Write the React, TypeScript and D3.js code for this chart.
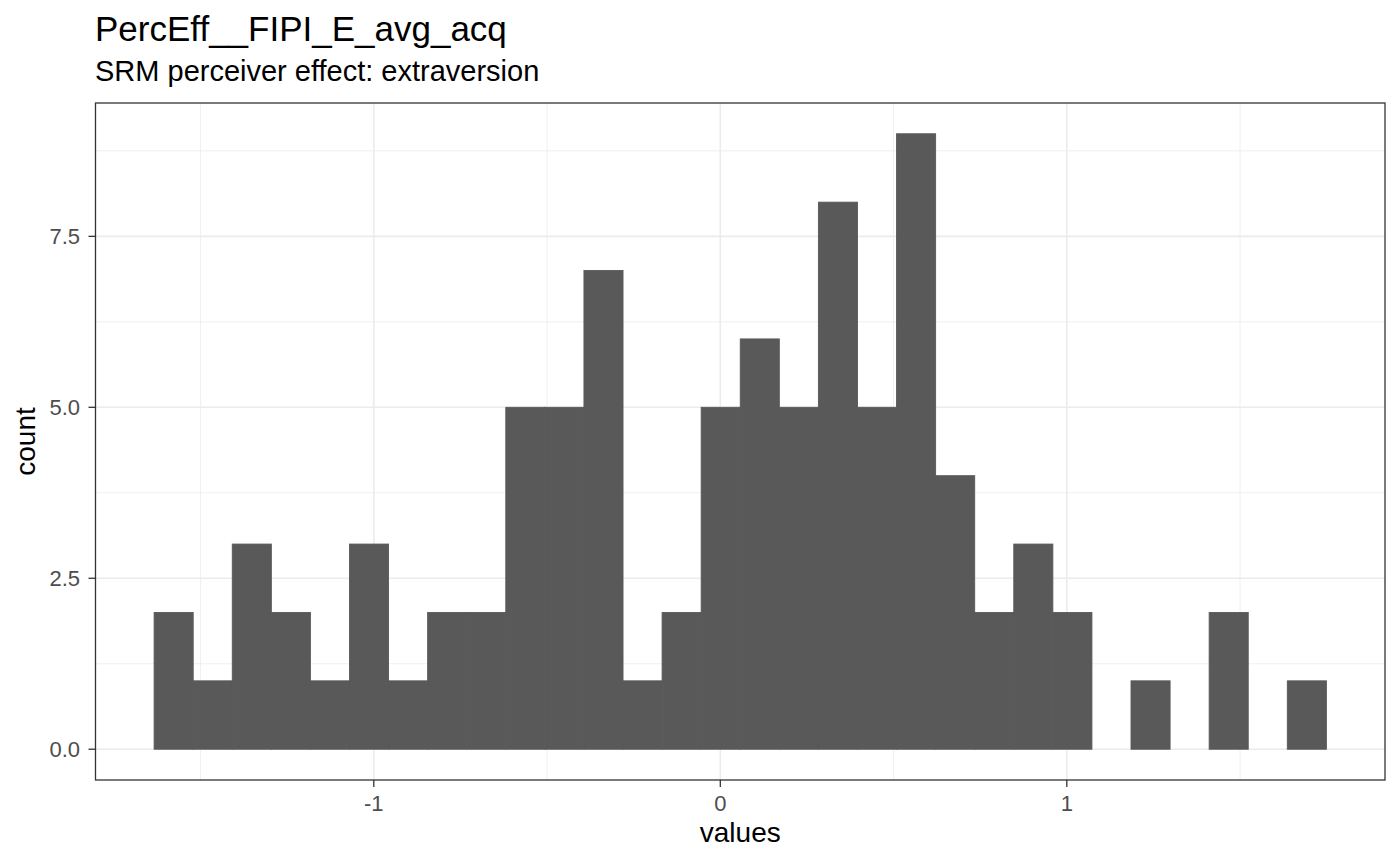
import React from "react";
import * as d3 from "d3";

const title = "PercEff__FIPI_E_avg_acq";
const subtitle = "SRM perceiver effect: extraversion";
const xLabel = "values";
const yLabel = "count";
const binStart = -1.634;
const binWidth = 0.11277;
const counts = [2, 1, 3, 2, 1, 3, 1, 2, 2, 5, 5, 7, 1, 2, 5, 6, 5, 8, 5, 9, 4, 2, 3, 2, 0, 1, 0, 2, 0, 1];
const xTicks = [-1, 0, 1];
const xMinor = [-1.5, -0.5, 0.5, 1.5];
const yTicks = [0, 2.5, 5, 7.5];
const yMinor = [1.25, 3.75, 6.25, 8.75];

export default function App() {
  const W = 1400, H = 865;
  const L = 95.5, R = 1385, T = 103, B = 780;
  const xMin = binStart, xMax = binStart + binWidth * counts.length;
  const xPad = (xMax - xMin) * 0.05;
  const yMax = d3.max(counts) as number;
  const x = d3.scaleLinear().domain([xMin - xPad, xMax + xPad]).range([L, R]);
  const y = d3.scaleLinear().domain([-yMax * 0.05, yMax * 1.05]).range([B, T]);
  const font = "'Liberation Sans', Arial, Helvetica, sans-serif";
  return (
    <svg width={W} height={H} style={{ position: "absolute", left: 0, top: 0, background: "#fff" }} fontFamily={font}>
      <rect x={0} y={0} width={W} height={H} fill="#fff" />
      <g>
        {xMinor.map((v) => (
          <line key={"xm" + v} x1={x(v)} x2={x(v)} y1={T} y2={B} stroke="#EBEBEB" strokeWidth={0.8} />
        ))}
        {yMinor.map((v) => (
          <line key={"ym" + v} x1={L} x2={R} y1={y(v)} y2={y(v)} stroke="#EBEBEB" strokeWidth={0.8} />
        ))}
        {xTicks.map((v) => (
          <line key={"xM" + v} x1={x(v)} x2={x(v)} y1={T} y2={B} stroke="#EBEBEB" strokeWidth={1.6} />
        ))}
        {yTicks.map((v) => (
          <line key={"yM" + v} x1={L} x2={R} y1={y(v)} y2={y(v)} stroke="#EBEBEB" strokeWidth={1.6} />
        ))}
      </g>
      <g>
        {counts.map((c, i) =>
          c > 0 ? (
            <rect
              key={i}
              x={x(binStart + i * binWidth)}
              width={x(binStart + (i + 1) * binWidth) - x(binStart + i * binWidth)}
              y={y(c)}
              height={y(0) - y(c)}
              fill="#595959"
              stroke="#595959"
              strokeWidth={0.9}
            />
          ) : null
        )}
      </g>
      <rect x={L} y={T} width={R - L} height={B - T} fill="none" stroke="#333333" strokeWidth={1.3} />
      {xTicks.map((v) => (
        <g key={"xt" + v}>
          <line x1={x(v)} x2={x(v)} y1={B} y2={B + 7} stroke="#333333" strokeWidth={1.3} />
          <text x={x(v)} y={811} textAnchor="middle" fontSize={22} fill="#4D4D4D">
            {v}
          </text>
        </g>
      ))}
      {yTicks.map((v) => (
        <g key={"yt" + v}>
          <line x1={L - 7} x2={L} y1={y(v)} y2={y(v)} stroke="#333333" strokeWidth={1.3} />
          <text x={L - 15.5} y={y(v)} dy="0.36em" textAnchor="end" fontSize={22} fill="#4D4D4D">
            {d3.format(".1f")(v)}
          </text>
        </g>
      ))}
      <text x={(L + R) / 2} y={842} textAnchor="middle" fontSize={28} fill="#000">
        {xLabel}
      </text>
      <text transform={`translate(35, ${(T + B) / 2}) rotate(-90)`} textAnchor="middle" fontSize={28} fill="#000">
        {yLabel}
      </text>
      <text x={95} y={41} fontSize={35} fill="#000">
        {title}
      </text>
      <text x={95} y={81} fontSize={29} fill="#000">
        {subtitle}
      </text>
    </svg>
  );
}
